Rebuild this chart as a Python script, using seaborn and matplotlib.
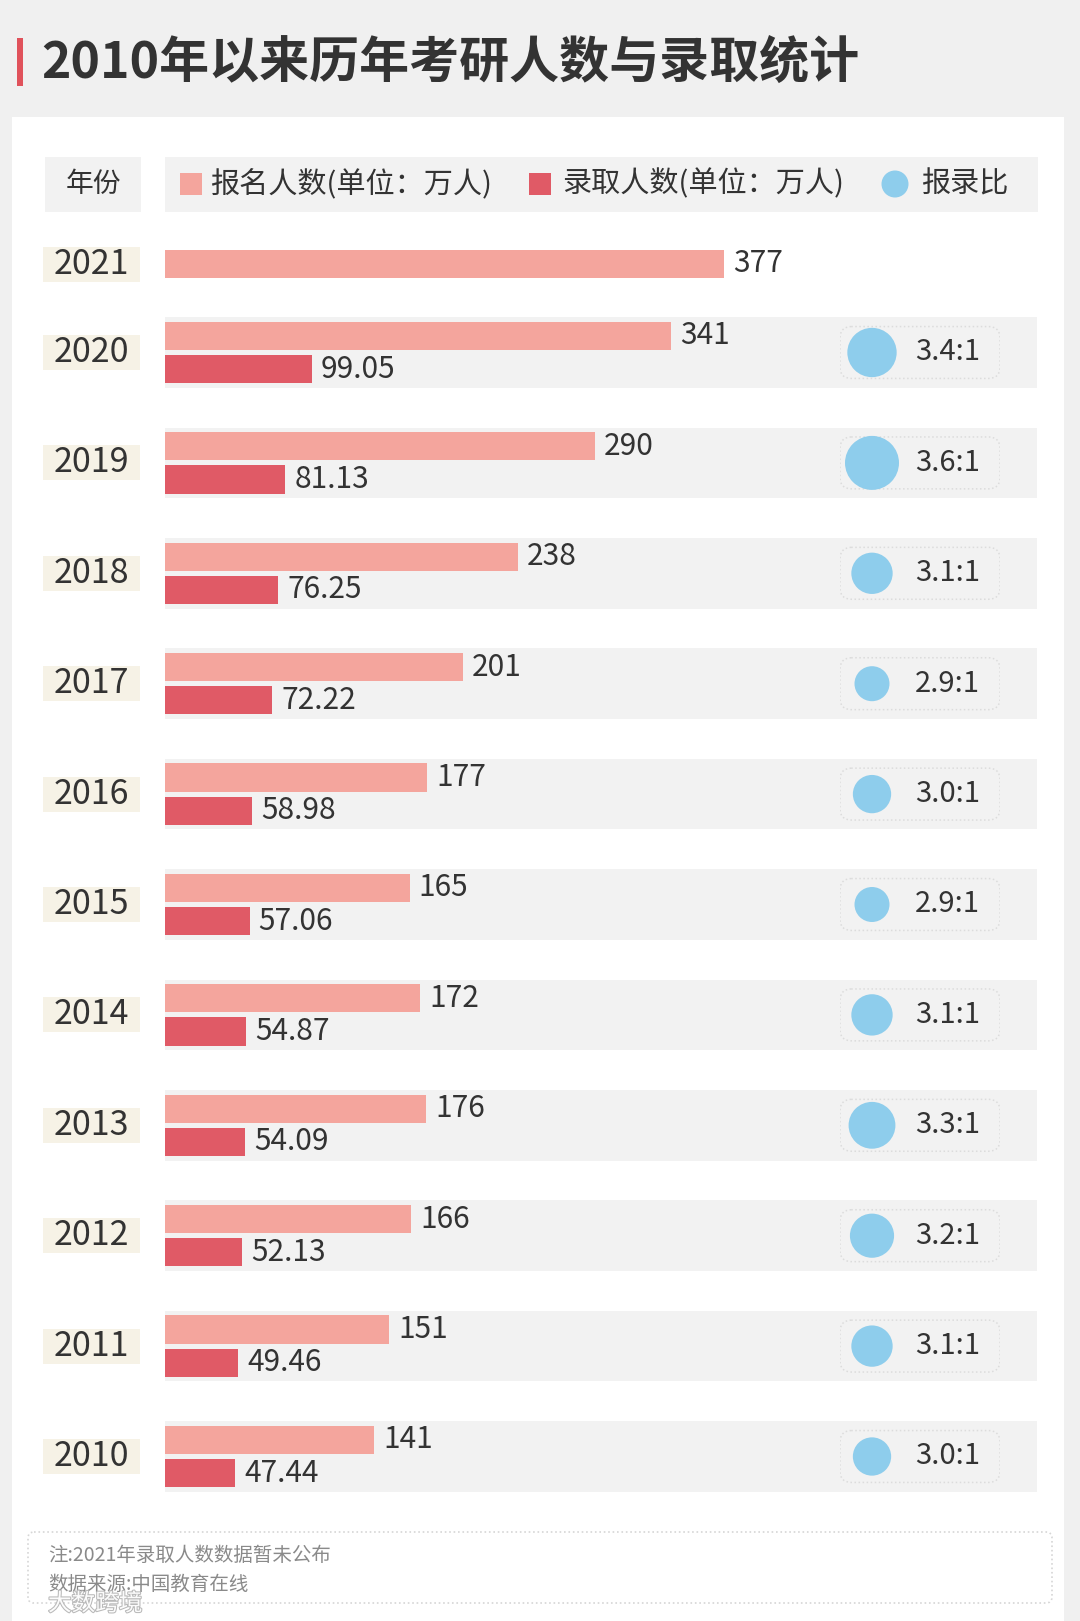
import pandas as pd
import numpy as np
import matplotlib
matplotlib.use('Agg')
import matplotlib.pyplot as plt
import matplotlib.patches as mpatches
import matplotlib.patheffects as pe
import seaborn as sns

# DATA ------------------------------------------------------------------------------
years = ['2020', '2019', '2018', '2017', '2016', '2015', '2014', '2013', '2012', '2011', '2010']
applicants = [341, 290, 238, 201, 177, 165, 172, 176, 166, 151, 141]
admitted = [99.05, 81.13, 76.25, 72.22, 58.98, 57.06, 54.87, 54.09, 52.13, 49.46, 47.44]
ratios = [3.4, 3.6, 3.1, 2.9, 3.0, 2.9, 3.1, 3.3, 3.2, 3.1, 3.0]
ratio_labels = ['3.4:1', '3.6:1', '3.1:1', '2.9:1', '3.0:1', '2.9:1', '3.1:1', '3.3:1', '3.2:1', '3.1:1', '3.0:1']
year_2021 = '2021'
applicants_2021 = 377

title = '2010年以来历年考研人数与录取统计'
series_names = ['报名人数(单位：万人)', '录取人数(单位：万人)']
ratio_name = '报录比'
year_head = '年份'
notes = ['注:2021年录取人数数据暂未公布', '数据来源:中国教育在线']
# END DATA --------------------------------------------------------------------------

# colours
PINK = '#f4a59d'
RED = '#e05a66'
BLUE = '#8ecdec'
CREAM = '#f6f2e6'
BAND = '#f2f2f2'
TXT = '#333333'
NUM_W = 'light'  # digits are drawn a bit thinner in the original

sns.set_theme(style='white')
plt.rcParams['font.family'] = ['Noto Sans CJK SC', 'DejaVu Sans']

W, H = 1080, 1621
fig = plt.figure(figsize=(W / 100, H / 100), dpi=100, facecolor='#f0f0f0')


def fig_rect(x0, y0, x1, y1):
    # pixel box (top-left origin) -> figure fraction
    return [x0 / W, 1 - y1 / H, (x1 - x0) / W, (y1 - y0) / H]


# background / layout axes in pixel coordinates
bg = fig.add_axes([0, 0, 1, 1])
bg.set_xlim(0, W)
bg.set_ylim(H, 0)
bg.axis('off')

bg.add_patch(mpatches.Rectangle((12, 117), 1052, H - 117, color='white', lw=0, zorder=0))
bg.add_patch(mpatches.Rectangle((17, 38), 6, 48, color='#e0525b', lw=0))
bg.text(41, 63, title, fontsize=36, fontweight='bold', color=TXT, va='center', ha='left')

# header row
bg.add_patch(mpatches.Rectangle((45, 157), 96, 55, color=BAND, lw=0))
bg.add_patch(mpatches.Rectangle((165, 157), 873, 55, color=BAND, lw=0))
bg.text(93, 184, year_head, fontsize=20, color=TXT, ha='center', va='center')
bg.add_patch(mpatches.Rectangle((180, 173), 22, 22, color=PINK, lw=0))
bg.text(210, 184, series_names[0], fontsize=21, color=TXT, va='center')
bg.add_patch(mpatches.Rectangle((529, 173), 22, 22, color=RED, lw=0))
bg.text(562, 184, series_names[1], fontsize=21, color=TXT, va='center')
bg.add_patch(mpatches.Ellipse((895, 184), 27, 27, color=BLUE, lw=0))
bg.text(921, 184, ratio_name, fontsize=21, color=TXT, va='center')

# footnote
bg.add_patch(mpatches.FancyBboxPatch((28, 1532), 1024, 71, boxstyle='round,pad=0,rounding_size=6',
                                     fill=False, ec='#d6d6d6', lw=1.2, ls=':'))
bg.text(48, 1555, notes[0], fontsize=14, color='#8a8a8a', va='center')
bg.text(48, 1584, notes[1], fontsize=14, color='#8a8a8a', va='center')
bg.text(48, 1604, '大数跨境', fontsize=17, color='white', va='center', alpha=0.95,
        path_effects=[pe.withStroke(linewidth=1.5, foreground='#b5b5b5')])

XMAX = 588  # 万人 across the bar area

# MAIN BARS 2020-2010 -----------------------------------------------------------------
df = pd.DataFrame({'year': years * 2,
                   'value': applicants + admitted,
                   'series': [series_names[0]] * len(years) + [series_names[1]] * len(years)})

ax = fig.add_axes(fig_rect(165, 297.3, 1037, 1511.7))
ax.patch.set_alpha(0)
for i in range(len(years)):
    ax.axhspan(i - 0.32, i + 0.32, color=BAND, lw=0, zorder=0)
sns.barplot(data=df, x='value', y='year', hue='series', order=years, hue_order=series_names,
            palette=[PINK, RED], orient='h', width=0.6, gap=0.15, saturation=1,
            errorbar=None, legend=False, ax=ax, zorder=2, linewidth=0, edgecolor='none')
for cont, fmt in zip(ax.containers, ['{:.0f}', '{:.2f}']):
    ax.bar_label(cont, fmt=fmt, padding=6.5, fontsize=21.5, color=TXT, fontweight=NUM_W)
ax.set_xlim(0, XMAX)
ax.set_ylim(len(years) - 0.5, -0.5)
ax.axis('off')

# year boxes left of the bars
ytr = ax.get_yaxis_transform()
for i, y in enumerate(years):
    ax.add_patch(mpatches.Rectangle((-0.1399, i - 0.158), 0.1112, 0.317, transform=ytr,
                                    color=CREAM, lw=0, clip_on=False))
    ax.text(-0.0843, i, y, transform=ytr, fontsize=24.5, color=TXT, ha='center', va='center',
            fontweight=NUM_W, clip_on=False)

# 2021 ROW -----------------------------------------------------------------------------
ax21 = fig.add_axes(fig_rect(165, 236, 1037, 292))
ax21.patch.set_alpha(0)
sns.barplot(x=[applicants_2021], y=[year_2021], color=PINK, orient='h', width=0.5,
            saturation=1, errorbar=None, ax=ax21, linewidth=0, edgecolor='none')
ax21.bar_label(ax21.containers[0], fmt='{:.0f}', padding=6.5, fontsize=21.5, color=TXT,
               fontweight=NUM_W)
ax21.set_xlim(0, XMAX)
ax21.set_ylim(0.5, -0.5)
ax21.axis('off')
ytr21 = ax21.get_yaxis_transform()
ax21.add_patch(mpatches.Rectangle((-0.1399, -0.3125), 0.1112, 0.625, transform=ytr21,
                                  color=CREAM, lw=0, clip_on=False))
ax21.text(-0.0843, 0, year_2021, transform=ytr21, fontsize=24.5, color=TXT, ha='center',
          va='center', fontweight=NUM_W, clip_on=False)

# RATIO COLUMN ---------------------------------------------------------------------------
axr = fig.add_axes(fig_rect(840, 297.3, 1000, 1511.7))
axr.patch.set_alpha(0)
df_r = pd.DataFrame({'pos': np.arange(len(years)), 'ratio': ratios, 'col': 0.2})
for i in range(len(years)):
    axr.add_patch(mpatches.FancyBboxPatch((0, i - 0.235), 1, 0.47,
                                          boxstyle='round,pad=0,rounding_size=0.07',
                                          mutation_aspect=160 / 110.4,
                                          fill=False, ec='#dcdcdc', lw=1.1, ls=':', zorder=1))
sns.scatterplot(data=df_r, x='col', y='pos', size='ratio', sizes=(635, 1512), size_norm=(2.9, 3.6),
                color=BLUE, linewidth=0, legend=False, ax=axr, zorder=3)
for i, lab in enumerate(ratio_labels):
    axr.text(0.67, i, lab, fontsize=21, color=TXT, ha='center', va='center', fontweight=NUM_W)
axr.set_xlim(0, 1)
axr.set_ylim(len(years) - 0.5, -0.5)
axr.axis('off')

fig.savefig('out.png', dpi=100, facecolor=fig.get_facecolor())
